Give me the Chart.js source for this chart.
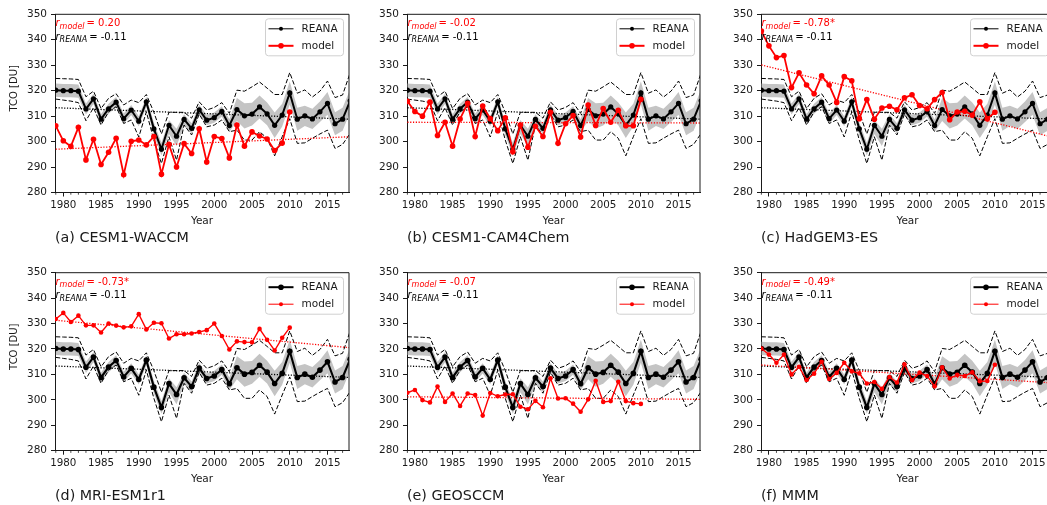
<!DOCTYPE html>
<html>
<head>
<meta charset="utf-8">
<script src="https://cdn.jsdelivr.net/npm/chart.js@4.4.1/dist/chart.umd.min.js"></script>
<style>
  html, body { margin: 0; padding: 0; background: #fff; }
  body { width: 1047px; height: 505px; overflow: hidden; position: relative; font-family: "DejaVu Sans", sans-serif; }
  canvas { position: absolute; }
</style>
</head>
<body>
<script>
// ---- data ----
const years = [1979, 1980, 1981, 1982, 1983, 1984, 1985, 1986, 1987, 1988, 1989, 1990, 1991, 1992,
  1993, 1994, 1995, 1996, 1997, 1998, 1999, 2000, 2001, 2002, 2003, 2004, 2005, 2006, 2007, 2008,
  2009, 2010, 2011, 2012, 2013, 2014, 2015, 2016, 2017, 2018];
const modelYears = years.slice(0, 32); // 1979-2010
const trendYears = [1979, 2018];

// reanalysis mean, +-1 sd band, and min/max envelope (DU)
const reana = [320.2, 320.0, 320.0, 319.8, 312.8, 316.8, 308.8, 312.9, 315.5, 309.0, 312.4, 308.0, 315.6, 305.0,
  297.0, 306.4, 302.1, 308.7, 305.2, 312.5, 308.4, 309.4, 311.9, 306.3, 312.6, 310.1, 310.8, 313.6, 310.9, 306.4,
  310.4, 319.1, 308.8, 310.1, 308.9, 311.7, 315.0, 307.0, 308.8, 316.0];
const reanaSdHi = [322.8, 322.6, 322.6, 322.4, 315.0, 318.8, 310.8, 314.9, 317.5, 311.0, 314.4, 310.0, 317.6, 307.5,
  299.5, 308.5, 305.0, 310.7, 307.2, 314.5, 310.4, 311.4, 313.9, 308.8, 317.1, 315.1, 315.3, 318.1, 315.4, 311.4,
  314.9, 323.6, 313.3, 314.1, 312.9, 315.7, 319.5, 311.5, 313.3, 320.5];
const reanaSdLo = [317.6, 317.4, 317.4, 317.2, 310.6, 314.8, 306.8, 310.9, 313.5, 307.0, 310.4, 306.0, 313.6, 302.5,
  294.5, 303.0, 298.3, 306.0, 303.2, 310.5, 306.4, 307.4, 309.9, 303.8, 308.1, 305.1, 306.3, 309.1, 306.4, 301.4,
  305.9, 314.6, 304.3, 306.1, 304.9, 307.7, 310.5, 302.5, 304.3, 311.5];
const reanaMax = [324.8, 324.7, 324.6, 324.4, 317.6, 319.8, 313.0, 317.0, 318.8, 314.4, 316.3, 315.3, 318.5, 311.5,
  303.0, 311.5, 311.5, 311.5, 309.2, 315.6, 312.4, 313.4, 315.3, 311.1, 320.2, 319.8, 321.5, 323.4, 321.0, 318.5,
  318.5, 327.1, 319.0, 320.3, 317.5, 319.8, 323.8, 317.3, 318.3, 327.0];
const reanaMin = [316.7, 316.3, 315.9, 315.3, 308.2, 313.3, 306.5, 311.7, 313.7, 307.1, 308.5, 301.8, 311.7, 300.6,
  291.4, 301.9, 292.7, 306.5, 302.6, 310.8, 305.8, 306.5, 308.5, 303.9, 304.5, 300.6, 300.6, 303.9, 301.3, 294.4,
  301.9, 309.0, 299.3, 299.5, 301.3, 303.0, 304.5, 297.3, 298.9, 303.2];
const reanaTrend = [313.3, 308.8];

// model series 1979-2010 (DU)
const cesm1Waccm = [306.2, 300.3, 298.1, 305.6, 292.8, 300.9, 291.0, 295.8, 301.3, 287.0, 300.1, 300.6, 298.7, 302.0,
  287.2, 298.9, 290.0, 299.2, 295.3, 305.0, 292.0, 302.0, 301.2, 293.6, 306.5, 298.2, 303.8, 302.2, 301.0, 296.5, 299.4, 311.6];
const cesm1Cam4Chem = [315.8, 311.8, 310.0, 315.5, 302.4, 307.6, 298.2, 308.9, 315.0, 302.0, 314.0, 309.0, 304.3, 309.3,
  296.0, 306.5, 297.8, 306.0, 302.0, 311.5, 299.3, 307.0, 310.2, 301.8, 314.4, 306.3, 313.0, 307.6, 312.3, 306.2, 306.2, 316.6];
const hadGem3Es = [343.4, 337.6, 333.0, 333.8, 321.2, 327.0, 322.2, 318.8, 325.8, 322.2, 315.4, 325.5, 323.9, 309.0,
  316.5, 308.8, 313.2, 313.9, 312.5, 317.2, 318.4, 314.2, 312.9, 316.5, 319.3, 308.6, 311.6, 311.9, 310.4, 315.6, 309.0, 311.5];
const mriEsm1r1 = [331.8, 334.2, 330.6, 333.1, 329.3, 329.3, 326.5, 330.0, 329.2, 328.5, 328.9, 333.7, 327.7, 330.3,
  330.1, 324.1, 325.8, 325.8, 326.1, 326.7, 327.4, 330.0, 325.1, 319.8, 323.0, 322.7, 322.6, 327.9, 323.6, 319.4, 324.4, 328.4];
const geosccm = [302.8, 303.9, 299.9, 299.0, 305.2, 299.2, 302.5, 297.6, 302.5, 301.9, 293.8, 302.7, 301.4, 302.1,
  302.2, 297.3, 296.3, 299.6, 297.1, 308.5, 300.5, 300.6, 298.5, 295.3, 300.2, 307.5, 299.2, 299.5, 307.1, 299.5, 298.7, 298.4];
const mmm = [320.2, 317.8, 314.6, 317.8, 310.0, 313.0, 307.8, 310.3, 315.0, 308.2, 310.6, 314.6, 311.2, 310.4,
  306.4, 307.0, 304.3, 309.0, 306.8, 314.0, 307.7, 310.7, 309.4, 305.3, 312.8, 308.4, 309.8, 309.4, 310.8, 307.3, 307.4, 313.8];

// linear trends (value at 1979 and 2018)
const trendWaccm = [297.0, 301.9];
const trendCam4 = [307.6, 307.3];
const trendHadGem = [330.1, 301.5];
const trendMri = [331.3, 320.5];
const trendGeos = [301.2, 300.2];
const trendMmm = [313.7, 306.6];

const xTicks = [1980, 1985, 1990, 1995, 2000, 2005, 2010, 2015];
const yTicks = [280, 290, 300, 310, 320, 330, 340, 350];

// ---- layout (px) ----
const INK = '#1a1a1a';
const RED = '#ff0000';
const FONT = '"DejaVu Sans", sans-serif';
const PX_PER_YEAR = 7.55;
const X_MAX = 2017.85;
const COL_LEFT = [55, 407, 761];
const COL_XMIN = [1978.9, 1978.95, 1978.95];
const ROWS = [{ top: 14.3, bottom: 192.5 }, { top: 272.7, bottom: 450.7 }];
const Y_AXIS_W = 55, X_AXIS_H = 35, CAPTION_H = 22;

const panels = [
  { row: 0, col: 0, caption: '(a) CESM1-WACCM', model: cesm1Waccm, trend: trendWaccm, r: '0.20' },
  { row: 0, col: 1, caption: '(b) CESM1-CAM4Chem', model: cesm1Cam4Chem, trend: trendCam4, r: '-0.02' },
  { row: 0, col: 2, caption: '(c) HadGEM3-ES', model: hadGem3Es, trend: trendHadGem, r: '-0.78*' },
  { row: 1, col: 0, caption: '(d) MRI-ESM1r1', model: mriEsm1r1, trend: trendMri, r: '-0.73*' },
  { row: 1, col: 1, caption: '(e) GEOSCCM', model: geosccm, trend: trendGeos, r: '-0.07' },
  { row: 1, col: 2, caption: '(f) MMM', model: mmm, trend: trendMmm, r: '-0.49*' }
];

const pts = (xs, ys) => ys.map((y, i) => ({ x: xs[i], y }));

function drawCorr(ctx, x, y, sub, val, color) {
  ctx.fillStyle = color;
  ctx.textAlign = 'left';
  ctx.textBaseline = 'alphabetic';
  ctx.font = 'italic 10px ' + FONT;
  ctx.fillText('r', x, y);
  x += ctx.measureText('r').width;
  ctx.font = 'italic 8px ' + FONT;
  ctx.fillText(sub, x, y + 2.5);
  x += ctx.measureText(sub).width + 2;
  ctx.font = '10px ' + FONT;
  ctx.fillText('= ' + val, x, y);
}

// spines, minor ticks, y label, legend, r values and caption
const panelDecor = {
  id: 'panelDecor',
  afterDraw(chart, args, o) {
    const { ctx, chartArea: ca } = chart;
    const xs = chart.scales.x;
    ctx.save();
    ctx.strokeStyle = INK;
    ctx.lineWidth = 1;
    ctx.beginPath();
    ctx.moveTo(ca.left, ca.top);
    ctx.lineTo(ca.right, ca.top);
    ctx.lineTo(ca.right, ca.bottom);
    ctx.stroke();

    ctx.lineWidth = 0.8;
    ctx.beginPath();
    years.forEach(yr => {
      if (yr % 5 === 0) return;
      const px = xs.getPixelForValue(yr);
      if (px < ca.left || px > ca.right) return;
      ctx.moveTo(px, ca.bottom);
      ctx.lineTo(px, ca.bottom + 2.2);
    });
    ctx.stroke();

    if (o.yTitle) {
      ctx.save();
      ctx.translate(ca.left - 41, ca.top + 74);
      ctx.rotate(-Math.PI / 2);
      ctx.fillStyle = INK;
      ctx.font = '10px ' + FONT;
      ctx.textAlign = 'center';
      ctx.textBaseline = 'middle';
      ctx.fillText('TCO [DU]', 0, 0);
      ctx.restore();
    }

    drawCorr(ctx, ca.left + 0.5, ca.top + 12, 'model', o.r, RED);
    drawCorr(ctx, ca.left + 0.5, ca.top + 25.5, 'REANA', '-0.11', '#000');

    // legend box
    const bw = 78, bh = 37;
    const bx = ca.right - 5.5 - bw, by = ca.top + 4.5;
    ctx.beginPath();
    ctx.roundRect(bx, by, bw, bh, 3);
    ctx.fillStyle = 'rgba(255,255,255,0.85)';
    ctx.fill();
    ctx.strokeStyle = '#d0d0d0';
    ctx.lineWidth = 1;
    ctx.stroke();
    o.legend.forEach((it, i) => {
      const ly = by + 10 + i * 17;
      ctx.strokeStyle = it.color;
      ctx.lineWidth = it.lw;
      ctx.beginPath();
      ctx.moveTo(bx + 3, ly);
      ctx.lineTo(bx + 28, ly);
      ctx.stroke();
      ctx.fillStyle = it.color;
      ctx.beginPath();
      ctx.arc(bx + 15.5, ly, it.r, 0, Math.PI * 2);
      ctx.fill();
      ctx.fillStyle = INK;
      ctx.font = '10.5px ' + FONT;
      ctx.textAlign = 'left';
      ctx.textBaseline = 'middle';
      ctx.fillText(it.label, bx + 36, ly);
    });

    ctx.fillStyle = INK;
    ctx.font = '14.3px ' + FONT;
    ctx.textAlign = 'left';
    ctx.textBaseline = 'middle';
    ctx.fillText(o.caption, ca.left, ca.bottom + 45.5);
    ctx.restore();
  }
};

panels.forEach(p => {
  const row = ROWS[p.row];
  const xmin = COL_XMIN[p.col];
  const plotW = (X_MAX - xmin) * PX_PER_YEAR;
  const plotH = row.bottom - row.top;
  const cLeft = COL_LEFT[p.col] - Y_AXIS_W;
  const cTop = Math.floor(row.top) - 10;
  const padTop = row.top - cTop;
  const W = Math.ceil(Y_AXIS_W + plotW + 3);
  const H = Math.ceil(padTop + plotH + X_AXIS_H + CAPTION_H);
  const padBottom = H - padTop - plotH - X_AXIS_H;
  const padRight = W - Y_AXIS_W - plotW;

  const cv = document.createElement('canvas');
  cv.width = W; cv.height = H;
  cv.style.left = cLeft + 'px'; cv.style.top = cTop + 'px';
  cv.style.width = W + 'px'; cv.style.height = H + 'px';
  document.body.appendChild(cv);

  const topRow = p.row === 0;
  const reanaStyle = topRow ? { lw: 2, r: 2.6, legLw: 1, legR: 2 } : { lw: 2.1, r: 2.8, legLw: 2, legR: 2.8 };
  const modelStyle = topRow ? { lw: 1.8, r: 2.8, legLw: 2, legR: 2.8 } : { lw: 1.4, r: 2.3, legLw: 1, legR: 2 };

  const line = (label, data, color, extra) => Object.assign({
    label, data, borderColor: color, backgroundColor: color, borderWidth: 1,
    pointRadius: 0, pointBorderWidth: 0, pointBackgroundColor: color, tension: 0, fill: false
  }, extra);

  const axisFont = { family: 'DejaVu Sans', size: 10.3 };

  new Chart(cv, {
    type: 'line',
    data: {
      datasets: [
        line('model', pts(modelYears, p.model), RED, { borderWidth: modelStyle.lw, pointRadius: modelStyle.r, order: 1 }),
        line('REANA', pts(years, reana), '#000', { borderWidth: reanaStyle.lw, pointRadius: reanaStyle.r, order: 2 }),
        line('model trend', pts(trendYears, p.trend), RED, { borderWidth: 1.3, borderDash: [1.2, 1.6], order: 3 }),
        line('REANA trend', pts(trendYears, reanaTrend), '#000', { borderWidth: 1.3, borderDash: [1.2, 1.6], order: 3 }),
        line('REANA max', pts(years, reanaMax), '#000', { borderWidth: 1, borderDash: [4.5, 2], order: 4 }),
        line('REANA min', pts(years, reanaMin), '#000', { borderWidth: 1, borderDash: [4.5, 2], order: 4 }),
        line('sd hi', pts(years, reanaSdHi), 'rgba(0,0,0,0)', { borderWidth: 0, fill: '+1', backgroundColor: '#c4c4c4', order: 5 }),
        line('sd lo', pts(years, reanaSdLo), 'rgba(0,0,0,0)', { borderWidth: 0, order: 6 })
      ]
    },
    options: {
      responsive: false,
      devicePixelRatio: 1,
      animation: false,
      events: [],
      layout: { padding: { top: padTop, right: padRight, bottom: padBottom, left: 0 } },
      plugins: {
        legend: { display: false },
        tooltip: { enabled: false },
        panelDecor: {
          r: p.r,
          caption: p.caption,
          yTitle: p.col === 0,
          legend: [
            { label: 'REANA', color: '#000', lw: reanaStyle.legLw, r: reanaStyle.legR },
            { label: 'model', color: RED, lw: modelStyle.legLw, r: modelStyle.legR }
          ]
        }
      },
      scales: {
        x: {
          type: 'linear', min: xmin, max: X_MAX,
          afterFit: s => { s.height = X_AXIS_H; },
          afterBuildTicks: s => { s.ticks = xTicks.map(v => ({ value: v })); },
          ticks: { callback: v => String(v), font: axisFont, color: INK, padding: 2.5, maxRotation: 0, autoSkip: false },
          grid: { drawOnChartArea: false, drawTicks: true, tickLength: 4, color: INK },
          border: { color: INK, width: 1 },
          title: { display: true, text: 'Year', font: { family: 'DejaVu Sans', size: 10.5 }, color: INK, padding: { top: 0, bottom: 0 } }
        },
        y: {
          type: 'linear', min: 280, max: 350,
          afterFit: s => { s.width = Y_AXIS_W; },
          afterBuildTicks: s => { s.ticks = yTicks.map(v => ({ value: v })); },
          ticks: { callback: v => String(v), font: { family: 'DejaVu Sans', size: 10.5 }, color: INK, padding: 4 },
          grid: { drawOnChartArea: false, drawTicks: true, tickLength: 4, color: INK },
          border: { color: INK, width: 1 }
        }
      }
    },
    plugins: [panelDecor]
  });
});
</script>
</body>
</html>
